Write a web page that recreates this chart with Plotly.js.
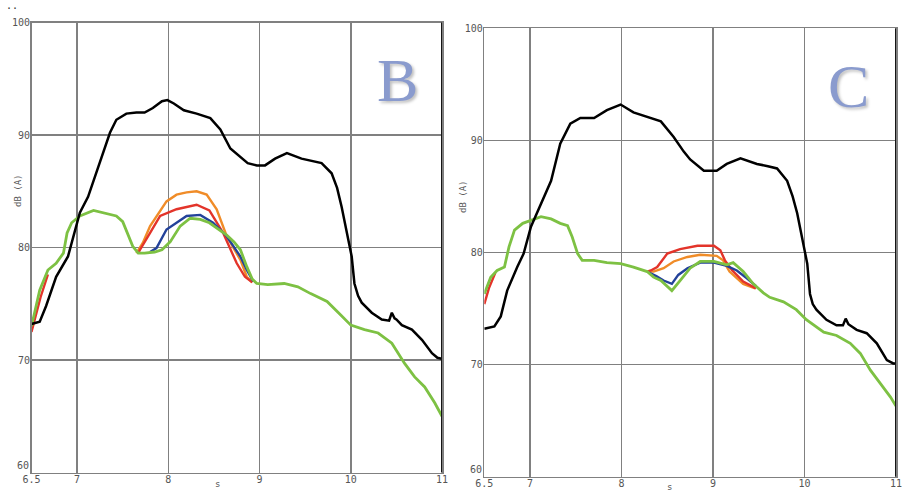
<!DOCTYPE html>
<html>
<head>
<meta charset="utf-8">
<script src="https://cdn.plot.ly/plotly-3.0.1.min.js"></script>
<style>html,body{margin:0;padding:0;background:#fff;}#chart{width:904px;height:491px;}</style>
</head>
<body>
<div id="chart"></div>
<script>
// ---------- Panel B ----------
const xB_black = [6.5,6.59,6.66,6.77,6.9,6.96,7.03,7.12,7.25,7.36,7.43,7.54,7.65,7.74,7.83,7.93,7.99,8.06,8.17,8.31,8.46,8.57,8.68,8.79,8.87,8.97,9.06,9.17,9.3,9.46,9.58,9.68,9.79,9.85,9.9,9.97,10.01,10.04,10.08,10.12,10.23,10.34,10.42,10.45,10.48,10.5,10.56,10.67,10.78,10.89,10.95,11.0];
const yB_black = [73.2,73.4,74.8,77.4,79.2,81.0,83.1,84.5,87.5,90.2,91.35,91.9,92.0,92.0,92.4,93.0,93.1,92.8,92.2,91.9,91.5,90.5,88.8,88.0,87.5,87.3,87.3,87.9,88.4,87.9,87.7,87.5,86.6,85.3,83.6,81.0,79.2,76.8,75.7,75.1,74.2,73.6,73.5,74.2,73.7,73.6,73.1,72.7,71.8,70.6,70.2,70.1];

const xB_green = [6.5,6.55,6.59,6.68,6.77,6.85,6.89,6.94,7.03,7.18,7.29,7.43,7.5,7.56,7.61,7.67,7.74,7.85,7.93,8.02,8.13,8.24,8.35,8.45,8.56,8.64,8.72,8.79,8.86,8.92,8.97,9.09,9.27,9.42,9.56,9.74,9.89,10.0,10.15,10.3,10.45,10.59,10.7,10.81,10.92,11.0];
const yB_green = [73.0,74.8,76.2,78.0,78.6,79.5,81.3,82.2,82.8,83.3,83.1,82.8,82.3,81.0,80.1,79.5,79.5,79.6,79.8,80.5,81.9,82.6,82.5,82.2,81.6,81.1,80.5,79.8,78.3,77.2,76.8,76.7,76.8,76.5,75.9,75.2,74.0,73.1,72.7,72.4,71.5,69.7,68.5,67.6,66.2,65.0];

const xB_red = [6.5,6.55,6.6,6.68,null,7.67,7.69,7.8,7.91,8.09,8.31,8.45,8.6,8.75,8.84,8.92];
const yB_red = [72.5,74.0,75.6,77.6,null,79.5,79.8,81.3,82.8,83.4,83.8,83.3,81.3,78.6,77.4,76.9];

const xB_orange = [7.65,7.72,7.8,7.98,8.09,8.2,8.31,8.42,8.53,8.64,8.79,8.86,8.92];
const yB_orange = [79.5,80.4,81.9,84.1,84.7,84.9,85.0,84.7,83.4,81.0,78.9,77.4,76.9];

const xB_blue = [7.8,7.87,7.98,8.2,8.35,8.49,8.64,8.79,8.86,8.93];
const yB_blue = [79.6,79.95,81.6,82.8,82.9,82.2,81.0,79.2,78.0,77.0];

// ---------- Panel C ----------
const xC_black = [6.5,6.61,6.68,6.75,6.86,6.93,7.01,7.12,7.23,7.33,7.44,7.55,7.7,7.84,7.99,8.13,8.28,8.43,8.57,8.68,8.75,8.9,9.04,9.15,9.3,9.48,9.6,9.7,9.81,9.87,9.92,9.99,10.03,10.06,10.09,10.13,10.24,10.35,10.42,10.45,10.48,10.57,10.68,10.79,10.9,10.97,11.0];
const yC_black = [73.2,73.4,74.3,76.6,78.7,79.9,82.3,84.4,86.4,89.7,91.5,92.0,92.0,92.7,93.2,92.5,92.1,91.7,90.3,89.0,88.3,87.3,87.3,87.9,88.4,87.9,87.7,87.5,86.4,85.0,83.5,80.8,79.0,76.3,75.4,74.9,74.0,73.5,73.5,74.1,73.6,73.1,72.8,71.9,70.4,70.1,70.1];

const xC_green = [6.5,6.57,6.64,6.72,6.77,6.83,6.92,7.01,7.12,7.23,7.33,7.41,7.46,7.52,7.57,7.7,7.84,7.99,8.13,8.28,8.35,8.43,8.55,8.64,8.75,8.86,9.01,9.15,9.22,9.33,9.44,9.55,9.62,9.77,9.91,10.02,10.21,10.35,10.5,10.61,10.72,10.83,10.94,11.0];
const yC_green = [76.3,77.8,78.4,78.7,80.5,82.0,82.6,82.9,83.2,83.0,82.6,82.4,81.4,79.9,79.3,79.3,79.1,79.0,78.7,78.3,77.8,77.5,76.6,77.5,78.6,79.2,79.2,78.9,79.1,78.3,77.2,76.4,76.0,75.6,74.9,74.0,72.9,72.6,71.9,71.0,69.5,68.3,67.1,66.3];

const xC_red = [6.5,6.55,6.62,null,8.28,8.32,8.39,8.5,8.64,8.83,9.01,9.08,9.13,9.21,9.33,9.47];
const yC_red = [75.4,76.8,78.2,null,78.3,78.4,78.7,79.9,80.3,80.6,80.6,80.2,79.3,78.4,77.4,76.8];

const xC_orange = [8.3,8.35,8.46,8.57,8.72,8.86,9.04,9.11,9.18,9.33,9.46];
const yC_orange = [78.3,78.3,78.6,79.2,79.6,79.8,79.7,79.3,78.3,77.2,76.8];

const xC_blue = [8.3,8.38,8.46,8.55,8.62,8.72,8.86,9.01,9.15,9.26,9.37,9.47];
const yC_blue = [78.2,77.9,77.5,77.2,78.0,78.6,79.1,79.1,78.8,78.4,77.7,77.0];

// ---------- axes labels ----------
const xTickVals = [6.5,7,8,9,10,11];
const xTickText = ['6.5','7','8','9','10','11'];
const yTickVals = [60,70,80,90,100];
const yTickText = ['60','70','80','90','100'];

const COL = {black:'#000000', orange:'#f08c28', red:'#e3342a', blue:'#23429a', green:'#7dc143'};

function tr(x, y, color, w, xa, ya) {
  return {x: x, y: y, type: 'scatter', mode: 'lines', xaxis: xa, yaxis: ya,
          line: {color: color, width: w}, connectgaps: false, hoverinfo: 'skip'};
}

const data = [
  tr(xB_orange, yB_orange, COL.orange, 2.4, 'x', 'y'),
  tr(xB_red, yB_red, COL.red, 2.4, 'x', 'y'),
  tr(xB_blue, yB_blue, COL.blue, 2.4, 'x', 'y'),
  tr(xB_green, yB_green, COL.green, 2.8, 'x', 'y'),
  tr(xB_black, yB_black, COL.black, 2.5, 'x', 'y'),
  tr(xC_orange, yC_orange, COL.orange, 2.4, 'x2', 'y2'),
  tr(xC_red, yC_red, COL.red, 2.4, 'x2', 'y2'),
  tr(xC_blue, yC_blue, COL.blue, 2.4, 'x2', 'y2'),
  tr(xC_green, yC_green, COL.green, 2.8, 'x2', 'y2'),
  tr(xC_black, yC_black, COL.black, 2.5, 'x2', 'y2')
];

const tickFont = {family: 'DejaVu Sans Mono', size: 10, color: '#555'};
function xax(domain, anchor) {
  return {domain: domain, anchor: anchor, range: [6.5, 11], tickvals: xTickVals, ticktext: xTickText,
          showgrid: true, gridcolor: '#808080', gridwidth: 1.5, zeroline: false,
          showline: true, linecolor: '#808080', linewidth: 1.5, mirror: true,
          ticks: '', tickfont: tickFont, ticklabelstandoff: -3, fixedrange: true};
}
// the lowest y label (60) is placed as an annotation, nudged up as in the reference
function yax(domain, anchor) {
  return {domain: domain, anchor: anchor, range: [60, 100], tickvals: yTickVals.slice(1), ticktext: yTickText.slice(1),
          showgrid: true, gridcolor: '#808080', gridwidth: 1.5, zeroline: false,
          showline: true, linecolor: '#808080', linewidth: 1.5, mirror: true,
          ticks: '', tickfont: tickFont, ticklabelstandoff: -2, fixedrange: true};
}

const W = 904, H = 491;
const layout = {
  width: W, height: H,
  margin: {l: 0, r: 0, t: 0, b: 0},
  paper_bgcolor: '#ffffff', plot_bgcolor: '#ffffff',
  showlegend: false,
  xaxis: xax([31.5 / W, 442 / W], 'y'),
  yaxis: yax([(H - 472.5) / H, (H - 22.5) / H], 'x'),
  xaxis2: xax([484.3 / W, 896 / W], 'y2'),
  yaxis2: yax([(H - 476.7) / H, (H - 28.3) / H], 'x2'),
  shapes: [
    {type: 'line', xref: 'x', yref: 'y domain', x0: 11, x1: 11, y0: 0, y1: 1, line: {color: '#151515', width: 2}},
    {type: 'line', xref: 'x2', yref: 'y2 domain', x0: 11, x1: 11, y0: 0, y1: 1, line: {color: '#151515', width: 2}}
  ],
  annotations: [
    {text: yTickText[0], xref: 'paper', yref: 'paper', x: 31 / W, y: 1 - 465 / H, xanchor: 'right', yanchor: 'middle', showarrow: false, font: tickFont},
    {text: yTickText[0], xref: 'paper', yref: 'paper', x: 484 / W, y: 1 - 469 / H, xanchor: 'right', yanchor: 'middle', showarrow: false, font: tickFont},
    {text: 'B', xref: 'paper', yref: 'paper', x: 397 / W, y: 1 - 80 / H, xanchor: 'center', yanchor: 'middle', showarrow: false,
     font: {family: 'Liberation Serif', size: 62, color: '#8a9bce', shadow: '2px 2px 3px rgba(0,0,0,0.25)'}},
    {text: 'C', xref: 'paper', yref: 'paper', x: 848 / W, y: 1 - 86 / H, xanchor: 'center', yanchor: 'middle', showarrow: false,
     font: {family: 'Liberation Serif', size: 62, color: '#8a9bce', shadow: '2px 2px 3px rgba(0,0,0,0.25)'}},
    {text: 'dB (A)', xref: 'paper', yref: 'paper', x: 18 / W, y: 1 - 191 / H, xanchor: 'center', yanchor: 'middle', textangle: -90, showarrow: false,
     font: {family: 'DejaVu Sans Mono', size: 9, color: '#555'}},
    {text: 'dB (A)', xref: 'paper', yref: 'paper', x: 463 / W, y: 1 - 197 / H, xanchor: 'center', yanchor: 'middle', textangle: -90, showarrow: false,
     font: {family: 'DejaVu Sans Mono', size: 9, color: '#555'}},
    {text: 's', xref: 'paper', yref: 'paper', x: 217 / W, y: 1 - 484 / H, xanchor: 'center', yanchor: 'middle', showarrow: false,
     font: {family: 'DejaVu Sans Mono', size: 9, color: '#555'}},
    {text: 's', xref: 'paper', yref: 'paper', x: 669 / W, y: 1 - 487 / H, xanchor: 'center', yanchor: 'middle', showarrow: false,
     font: {family: 'DejaVu Sans Mono', size: 9, color: '#555'}},
    {text: '..', xref: 'paper', yref: 'paper', x: 12 / W, y: 1 - 6 / H, xanchor: 'center', yanchor: 'middle', showarrow: false,
     font: {family: 'DejaVu Sans Mono', size: 10, color: '#333'}}
  ]
};

Plotly.newPlot('chart', data, layout, {displayModeBar: false, staticPlot: true});
</script>
</body>
</html>
